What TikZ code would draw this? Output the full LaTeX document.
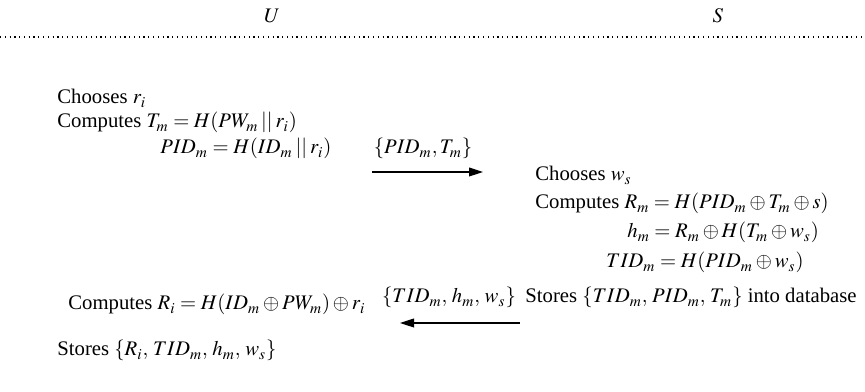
\documentclass[tikz,border=0pt]{standalone}
\usepackage{mathptmx}
\usepackage{fontspec}
\setmainfont{Liberation Serif}
\usetikzlibrary{arrows.meta}

\begin{document}
\begin{tikzpicture}[x=0.5bp,y=-0.5bp,
		every node/.style={font=\fontsize{10.4}{13}\selectfont},
		party/.style={inner sep=0pt},
		step line/.style={anchor=base west,inner sep=0pt},
		message/.style={anchor=base,inner sep=0pt},
		send/.style={-{Triangle[length=7bp,width=4.4bp]},line width=0.6pt}]
	\useasboundingbox (0,0) rectangle (865,392);
	\node[party] (user) at (272,16) {$U$};
	\node[party] (server) at (718,16) {$S$};
	\coordinate (sepL) at (0,37);
	\coordinate (sepR) at (865,37);
	\draw[line width=0.6pt,dash pattern=on 0.6pt off 1.8pt] (sepL) -- (sepR);
	% user: registration request
	\node[step line] (u1) at (57,104) {Chooses $r_i$};
	\node[step line] (u2) at (57,128) {Computes $T_m = H(PW_m \mathbin{||} r_i)$};
	\node[step line] (u3) at (160,154) {$PID_m = H(ID_m \mathbin{||} r_i)$};
	\node[message] (m1) at (423,154) {$\{PID_m,T_m\}$};
	\coordinate (m1s) at (372,172);
	\coordinate (m1e) at (483,172);
	\draw[send] (m1s) -- (m1e);
	% server side
	\node[step line] (s1) at (535,181) {Chooses $w_s$};
	\node[step line] (s2) at (535,209) {Computes $R_m = H(PID_m \oplus T_m \oplus s)$};
	\node[step line] (s3) at (627,238) {$h_m = R_m \oplus H(T_m \oplus w_s)$};
	\node[step line] (s4) at (606,268) {$TID_m = H(PID_m \oplus w_s)$};
	\node[step line] (s5) at (525,303) {Stores $\{TID_m,\, PID_m,\, T_m\}$ into database};
	\node[message] (m2) at (449,303) {$\{TID_m,\, h_m,\, w_s\}$};
	\coordinate (m2s) at (520,323);
	\coordinate (m2e) at (400,323);
	\draw[send] (m2s) -- (m2e);
	% user: storing
	\node[step line] (u4) at (68,310) {Computes $R_i = H(ID_m \oplus PW_m) \oplus r_i$};
	\node[step line] (u5) at (57,356) {Stores $\{R_i,\, TID_m,\, h_m,\, w_s\}$};
\end{tikzpicture}
\end{document}
